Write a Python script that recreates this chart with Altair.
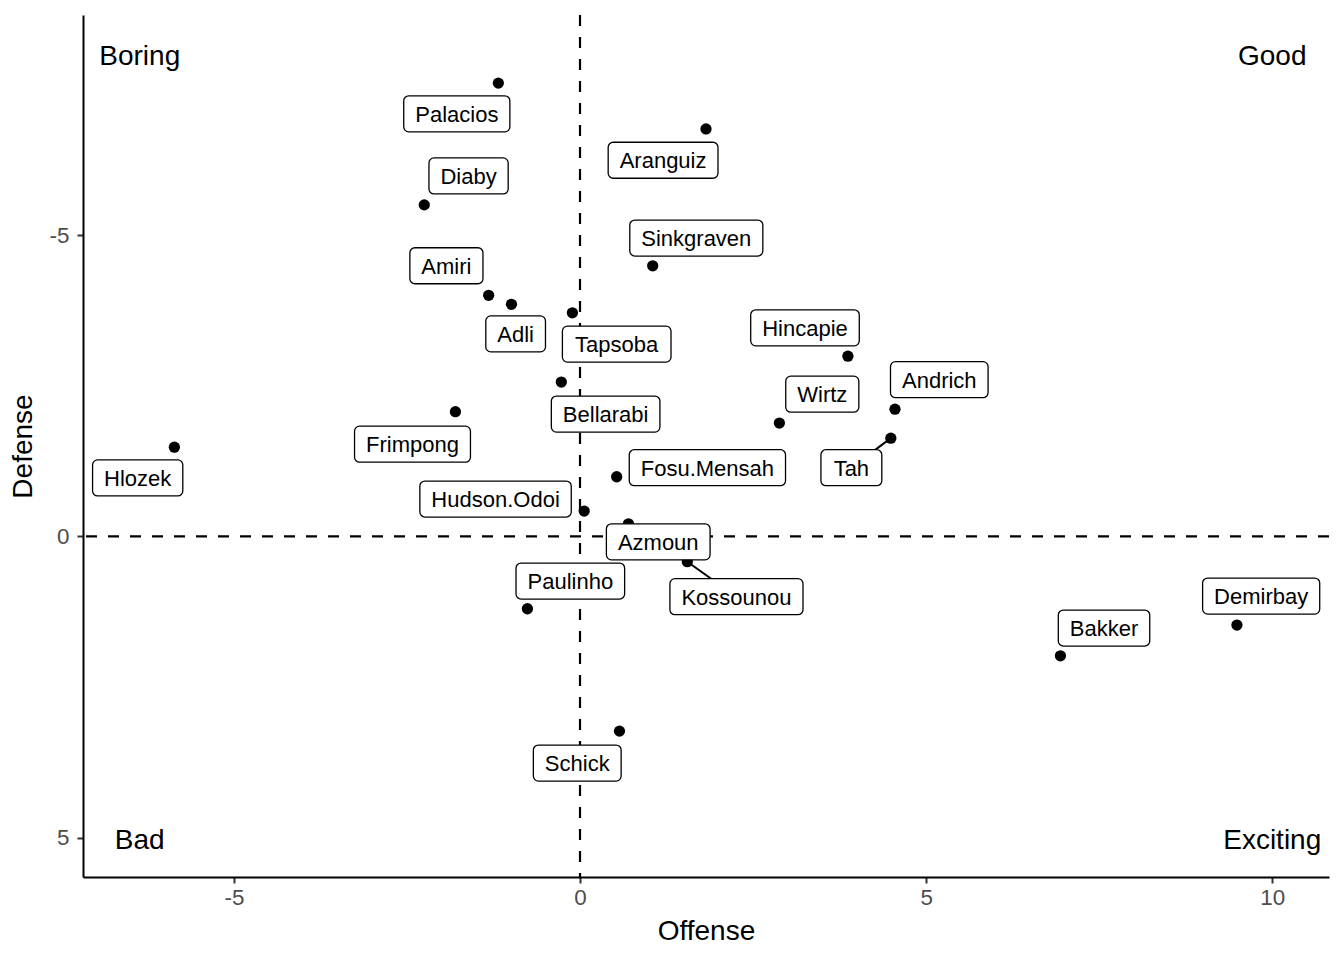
import altair as alt
import pandas as pd

# ---- data ----
players = ["Palacios", "Aranguiz", "Diaby", "Sinkgraven", "Amiri", "Adli", "Tapsoba",
           "Hincapie", "Bellarabi", "Frimpong", "Andrich", "Wirtz", "Tah", "Hlozek",
           "Fosu.Mensah", "Hudson.Odoi", "Azmoun", "Kossounou", "Paulinho", "Bakker",
           "Demirbay", "Schick"]
offense = [-1.18, 1.82, -2.25, 1.05, -1.32, -0.99, -0.11, 3.87, -0.27, -1.80, 4.55,
           2.88, 4.49, -5.86, 0.53, 0.06, 0.70, 1.55, -0.76, 6.94, 9.49, 0.57]
defense = [-7.52, -6.76, -5.50, -4.49, -4.00, -3.85, -3.71, -2.99, -2.56, -2.07, -2.11,
           -1.88, -1.63, -1.48, -0.99, -0.42, -0.21, 0.42, 1.20, 1.98, 1.47, 3.23]
# repelled label centres (data units)
label_x = [-1.78, 1.20, -1.61, 1.68, -1.93, -0.93, 0.53, 3.25, 0.37, -2.42, 5.19,
           3.50, 3.92, -6.39, 1.84, -1.22, 1.13, 2.26, -0.14, 7.57, 9.84, -0.04]
label_y = [-7.01, -6.24, -5.98, -4.95, -4.49, -3.36, -3.19, -3.46, -2.03, -1.53, -2.60,
           -2.36, -1.14, -0.97, -1.14, -0.62, 0.09, 1.00, 0.74, 1.52, 0.99, 3.76]
segment_players = ["Tah", "Kossounou"]

quad_text = ["Boring", "Good", "Bad", "Exciting"]
quad_x = [-6.36, 10.0, -6.36, 10.0]
quad_y = [-8.0, -8.0, 5.0, 5.0]

x_ticks = [-5, 0, 5, 10]
y_ticks = [-5, 0, 5]

# ---- layout ----
W, H = 1246, 862
XDOM = [-7.18, 10.82]
YDOM = [-8.65, 5.65]
FONT = "Liberation Sans"
LABEL_SIZE = 22
PX_X = W / (XDOM[1] - XDOM[0])
PX_Y = H / (YDOM[1] - YDOM[0])

# Arial/Helvetica advance widths (per 1000 em) for label-box sizing
CW = {"A": 667, "B": 667, "D": 722, "F": 611, "H": 722, "K": 667, "M": 833, "O": 778,
      "P": 667, "S": 667, "T": 611, "W": 944, "a": 556, "b": 556, "c": 500, "d": 556,
      "e": 556, "f": 278, "g": 556, "h": 556, "i": 222, "k": 500, "l": 222, "m": 833,
      "n": 556, "o": 556, "p": 556, "r": 333, "s": 500, "t": 278, "u": 556, "v": 500,
      "y": 500, "z": 500, ".": 278}


def text_px(s):
    return sum(CW.get(c, 556) for c in s) * LABEL_SIZE / 1000.0


df = pd.DataFrame({"player": players, "x": offense, "y": defense,
                   "lx": label_x, "ly": label_y})
half_w = [(text_px(p) + 23) / 2 / PX_X for p in players]
half_h = 18 / PX_Y
df["bx1"] = df["lx"] - half_w
df["bx2"] = df["lx"] + half_w
df["by1"] = df["ly"] - half_h
df["by2"] = df["ly"] + half_h
df["seg"] = df["player"].isin(segment_players)

quad = pd.DataFrame({"t": quad_text, "x": quad_x, "y": quad_y})

xs = alt.Scale(domain=XDOM, nice=False, zero=False)
ys = alt.Scale(domain=YDOM, nice=False, zero=False, reverse=True)
ax_x = alt.Axis(values=x_ticks, title="Offense", labelExpr="'' + datum.value",
                labelPadding=3, titlePadding=9)
ax_y = alt.Axis(values=y_ticks, title="Defense", labelExpr="'' + datum.value",
                labelPadding=8, titlePadding=12)


def X(field):
    return alt.X(field, scale=xs, axis=ax_x, title="Offense")


def Y(field):
    return alt.Y(field, scale=ys, axis=ax_y, title="Defense")


base = alt.Chart(df)

points = base.mark_circle(size=127, color="black", opacity=1).encode(
    x=X("x:Q"), y=Y("y:Q"),
)

vline = alt.Chart(pd.DataFrame({"v": [0]})).mark_rule(
    color="black", strokeWidth=2.2, strokeDash=[11, 11]
).encode(x=X("v:Q"))

hline = alt.Chart(pd.DataFrame({"v": [0]})).mark_rule(
    color="black", strokeWidth=2.2, strokeDash=[11, 11]
).encode(y=Y("v:Q"))

segments = base.transform_filter("datum.seg").mark_rule(
    color="black", strokeWidth=2
).encode(x=X("x:Q"), y=Y("y:Q"), x2="lx:Q", y2="ly:Q")

boxes = base.mark_rect(
    fill="white", stroke="black", strokeWidth=1.3, cornerRadius=5
).encode(x=X("bx1:Q"), x2="bx2:Q", y=Y("by1:Q"), y2="by2:Q")

labels = base.mark_text(
    font=FONT, fontSize=LABEL_SIZE, color="black", align="center", baseline="middle",
    dy=1,
).encode(x=X("lx:Q"), y=Y("ly:Q"), text="player:N")

quads = alt.Chart(quad).mark_text(
    font=FONT, fontSize=28, color="black", align="center", baseline="middle", dy=3
).encode(x=X("x:Q"), y=Y("y:Q"), text="t:N")

chart = alt.layer(points, vline, hline, segments, boxes, labels, quads).properties(
    width=W, height=H,
    autosize=alt.AutoSizeParams(type="none"),
    padding={"left": 75, "top": 7, "right": 5, "bottom": 70},
).configure_view(stroke=None).configure_axis(
    grid=False, domainColor="black", domainWidth=2, tickColor="#333333",
    tickWidth=2, tickSize=6, labelColor="#4D4D4D", labelFontSize=22.4,
    labelFont=FONT, titleFont=FONT, titleFontSize=28, titleFontWeight="normal",
    titleColor="black",
)

chart.save("out.html", embed_options={"renderer": "svg", "actions": False})
